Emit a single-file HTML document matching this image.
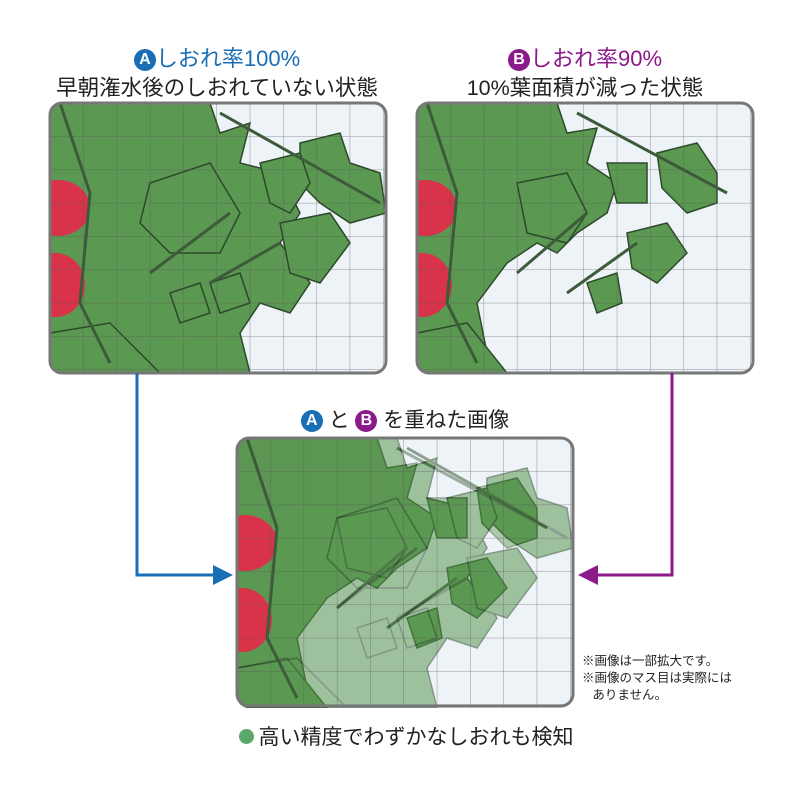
<!DOCTYPE html>
<html><head><meta charset="utf-8"><style>
body{margin:0;width:800px;height:800px;background:#fff;position:relative;font-family:"Liberation Sans","Noto Sans CJK JP",sans-serif;overflow:hidden}
.t{position:absolute;text-align:center;font-size:21px;white-space:nowrap}
.c{display:inline-block;width:22px;height:22px;border-radius:50%;color:#fff;font-size:16px;line-height:22px;text-align:center;font-weight:bold;vertical-align:2px}
</style></head><body>
<div class="t" style="left:67px;width:300px;top:41px;color:#1a6eb5;font-size:22px"><span class="c" style="background:#1a6eb5">A</span>しおれ率100%</div>
<div class="t" style="left:37px;width:360px;top:71px;color:#222;font-size:21.5px">早朝潅水後のしおれていない状態</div>
<div class="t" style="left:435px;width:300px;top:41px;color:#8b1a8b;font-size:22px"><span class="c" style="background:#8b1a8b">B</span>しおれ率90%</div>
<div class="t" style="left:435px;width:300px;top:71px;color:#222;font-size:21.5px">10%葉面積が減った状態</div>
<div class="t" style="left:255px;width:300px;top:404px;color:#222"><span class="c" style="background:#1a6eb5">A</span> と <span class="c" style="background:#8b1a8b">B</span> を重ねた画像</div>
<div class="t" style="left:226px;width:360px;top:721px;color:#222"><span style="display:inline-block;width:15px;height:15px;border-radius:50%;background:#5aa86a;vertical-align:0px;margin-right:5px"></span>高い精度でわずかなしおれも検知</div>
<div style="position:absolute;left:582px;top:653px;font-size:12.5px;line-height:17px;color:#222">※画像は一部拡大です。<br>※画像のマス目は実際には<br>&nbsp;&nbsp;&nbsp;ありません。</div>
<svg width="800" height="800" style="position:absolute;left:0;top:0">
<defs>
<pattern id="g" x="0" y="0" width="33.3" height="33.3" patternUnits="userSpaceOnUse"><path d="M0 0H33.3M0 0V33.3" stroke="#555" stroke-width="1" fill="none" opacity=".6"/></pattern>
<g id="plantA">
<rect width="336" height="270" fill="#eef3f8"/>
<g fill="#5b9852" stroke="#2c4a2a" stroke-width="1.5">
<path d="M0 0H160L170 30 200 20 190 60 230 70 250 110 230 140 260 180 240 210 210 200 190 230 200 270H0Z"/>
<path d="M100 80 160 60 190 110 170 150 120 150 90 120Z"/>
<path d="M250 40 290 30 300 60 330 70 336 110 300 120 270 100 250 80Z"/>
<path d="M210 60 250 50 260 80 240 110 220 100Z"/>
<path d="M230 120 280 110 300 140 270 180 240 170Z"/>
<path d="M120 190 150 180 160 210 130 220Z"/>
<path d="M160 180 190 170 200 200 170 210Z"/>
<path d="M0 230 60 220 110 270H0Z"/>
</g>
<g fill="#d8334a"><ellipse cx="8" cy="105" rx="32" ry="28"/><ellipse cx="5" cy="182" rx="30" ry="32"/></g>
<path d="M10 0 40 90 30 200 60 260M160 180 230 140M100 170 180 110M170 10 330 100" stroke="#3d5a3a" stroke-width="3" fill="none"/>
<rect width="336" height="270" fill="url(#g)"/>
</g>
<g id="plantB">
<rect width="336" height="270" fill="#eef3f8"/>
<g fill="#5b9852" stroke="#2c4a2a" stroke-width="1.5">
<path d="M0 0H140L150 30 180 25 170 60 200 80 190 110 160 130 140 150 120 140 90 160 60 200 70 250 40 270H0Z"/>
<path d="M100 80 150 70 170 110 150 140 110 130Z"/>
<path d="M240 50 280 40 300 70 300 100 270 110 245 85Z"/>
<path d="M190 60 230 60 230 100 200 100Z"/>
<path d="M210 130 250 120 270 150 240 180 215 165Z"/>
<path d="M170 180 200 170 205 200 180 210Z"/>
<path d="M0 230 50 220 90 270H0Z"/>
</g>
<g fill="#d8334a"><ellipse cx="8" cy="105" rx="32" ry="28"/><ellipse cx="5" cy="182" rx="30" ry="32"/></g>
<path d="M10 0 40 90 30 200 60 260M150 190 220 140M100 170 170 110M160 10 310 90" stroke="#3d5a3a" stroke-width="3" fill="none"/>
<rect width="336" height="270" fill="url(#g)"/>
</g>
<clipPath id="cl"><rect width="336" height="270" rx="12"/></clipPath>
</defs>
<g transform="translate(50,103)"><g clip-path="url(#cl)"><use href="#plantA"/></g><rect x="0" y="0" width="336" height="270" rx="12" fill="none" stroke="#777" stroke-width="3"/></g>
<g transform="translate(417,103)"><g clip-path="url(#cl)"><use href="#plantB"/></g><rect x="0" y="0" width="336" height="270" rx="12" fill="none" stroke="#777" stroke-width="3"/></g>
<g transform="translate(237,438)"><g clip-path="url(#cl)"><use href="#plantA"/><use href="#plantB" opacity=".45"/></g><rect x="0" y="0" width="336" height="268" rx="12" fill="none" stroke="#777" stroke-width="3"/></g>
<path d="M137 373V575H215" stroke="#1a6eb5" stroke-width="3" fill="none"/>
<path d="M213 565L233 575 213 585Z" fill="#1a6eb5"/>
<path d="M672 373V575H596" stroke="#8b1a8b" stroke-width="3" fill="none"/>
<path d="M598 565L578 575 598 585Z" fill="#8b1a8b"/>
</svg>
</body></html>
